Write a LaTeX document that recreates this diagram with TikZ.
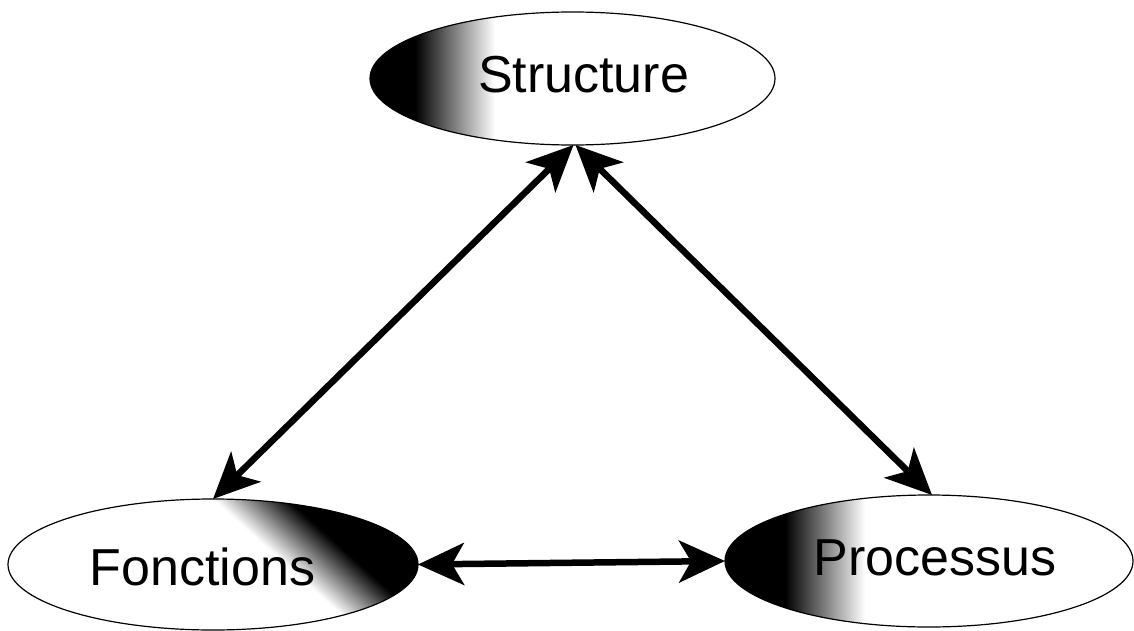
\documentclass[tikz,border=0pt]{standalone}
\usepackage{fontspec}
\setmainfont{Liberation Sans}
\usetikzlibrary{shapes.geometric,arrows.meta}
\begin{document}
\begin{tikzpicture}[x=1pt,y=-1pt,
  oval/.style={ellipse,draw,line width=1.2pt,inner sep=0pt,outer sep=0pt},
  lbl/.style={font=\fontsize{52}{52}\selectfont,anchor=base,inner sep=0pt},
  link/.style={line width=6.5pt,{Stealth[length=46pt,width=42pt,inset=12pt]}-{Stealth[length=46pt,width=42pt,inset=12pt]}}]
\useasboundingbox (0,0) rectangle (1134,631);
\fill[white] (0,0) rectangle (1134,631);
% Structure shading
\begin{scope}
  \clip (572.5,78.5) ellipse [x radius=202.5, y radius=66.5];
  \fill[black] (360,0) rectangle (417,160);
  \shade[left color=black,right color=white] (415,0) rectangle (495,160);
\end{scope}
% Processus shading
\begin{scope}
  \clip (929,561) ellipse [x radius=204, y radius=66];
  \fill[black] (715,480) rectangle (787,640);
  \shade[left color=black,right color=white] (785,480) rectangle (865,640);
\end{scope}
% Fonctions shading (dark towards upper right)
\begin{scope}
  \clip (213,564.5) ellipse [x radius=205, y radius=65.5];
  \begin{scope}[shift={(318,560)},rotate=48]
    \foreach \i [evaluate=\i as \p using {int(4*\i+2)}] in {0,...,24}{
      \fill[black!\p] ({-25+2*\i},-300) rectangle ({-22.5+2*\i},300);
    }
    \fill[black] (25,-300) rectangle (400,300);
  \end{scope}
\end{scope}
% ellipses
\node[oval,minimum width=405pt,minimum height=133pt] (S) at (572.5,78.5) {};
\node[oval,minimum width=410pt,minimum height=131pt] (F) at (213,564.5) {};
\node[oval,minimum width=408pt,minimum height=132pt] (P) at (929,561) {};
% texts
\node[lbl] (St) at (583.5,93) {Structure};
\node[lbl] (Ft) at (202.5,585) {Fonctions};
\node[lbl] (Pt) at (935,575) {Processus};
% connectors
\draw[link] ([xshift=1pt]S.south) -- (F.north);
\draw[link] ([xshift=3pt]S.south) -- ([xshift=3pt]P.north);
\draw[link] (F.east) -- (P.west);
\end{tikzpicture}
\end{document}
